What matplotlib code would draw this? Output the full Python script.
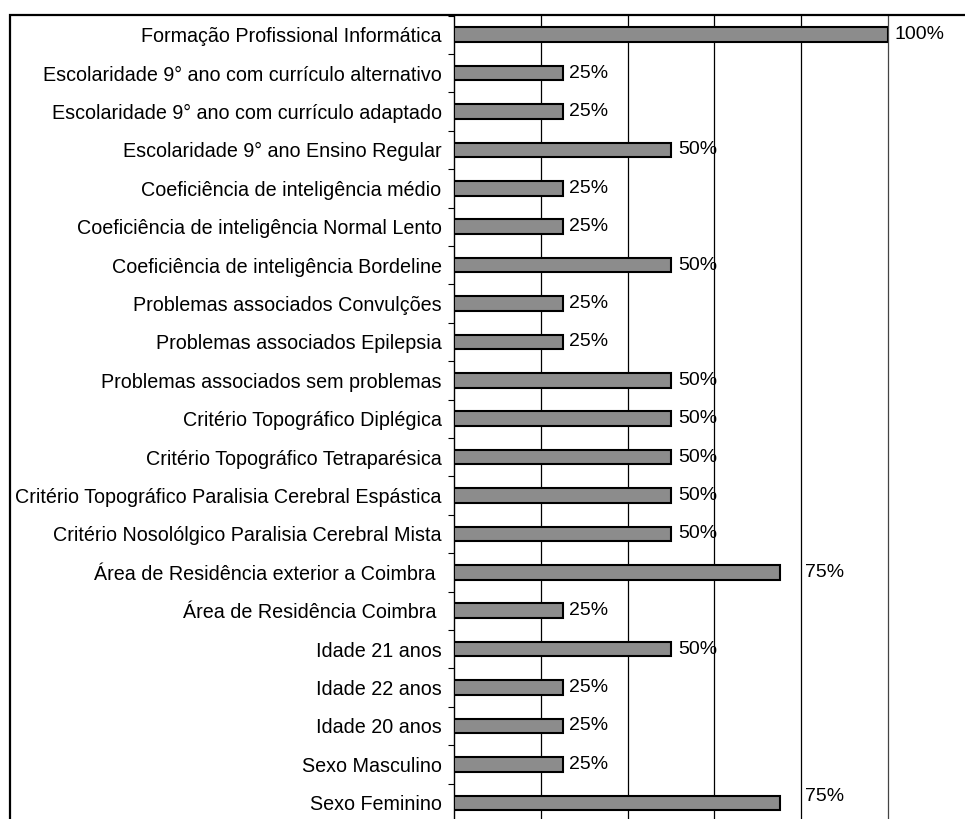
import matplotlib
matplotlib.use("Agg")
import matplotlib.pyplot as plt
from matplotlib.patches import Rectangle
from matplotlib.ticker import FixedLocator
import numpy as np

categories = [
    "Formação Profissional Informática",
    "Escolaridade 9° ano com currículo alternativo",
    "Escolaridade 9° ano com currículo adaptado",
    "Escolaridade 9° ano Ensino Regular",
    "Coeficiência de inteligência médio",
    "Coeficiência de inteligência Normal Lento",
    "Coeficiência de inteligência Bordeline",
    "Problemas associados Convulções",
    "Problemas associados Epilepsia",
    "Problemas associados sem problemas",
    "Critério Topográfico Diplégica",
    "Critério Topográfico Tetraparésica",
    "Critério Topográfico Paralisia Cerebral Espástica",
    "Critério Nosolólgico Paralisia Cerebral Mista",
    "Área de Residência exterior a Coimbra ",
    "Área de Residência Coimbra ",
    "Idade 21 anos",
    "Idade 22 anos",
    "Idade 20 anos",
    "Sexo Masculino",
    "Sexo Feminino",
]
values = [100, 25, 25, 50, 25, 25, 50, 25, 25, 50, 50, 50, 50, 50, 75, 25, 50, 25, 25, 25, 75]
x_ticks = [0, 20, 40, 60, 80, 100]

plt.rcParams['font.family'] = ['Liberation Sans', 'DejaVu Sans']
W, H = 965, 819
fig = plt.figure(figsize=(W / 100, H / 100), dpi=100)

# outer frame
fig.patches.append(Rectangle((10 / W, -0.05), 1.1, 1 - 15 / H + 0.05,
                             transform=fig.transFigure, fill=False,
                             edgecolor='black', linewidth=1.6, clip_on=False))

n = len(categories)
ax_left, ax_right = 454 / W, 888 / W
ax_top = 1 - 15.5 / H
ax_bottom = 1 - 822 / H
ax = fig.add_axes([ax_left, ax_bottom, ax_right - ax_left, ax_top - ax_bottom])
ax.set_facecolor('none')

y = np.arange(n)
ax.barh(y, values, height=0.38, color='#8c8c8c', edgecolor='black', linewidth=1.5, zorder=3)
ax.set_xlim(0, 100)
ax.set_ylim(n - 0.5, -0.5)

ax.set_xticks(x_ticks)
for xt in x_ticks[1:]:
    ax.axvline(xt, color='black' if xt < 100 else '#444444', linewidth=0.9, zorder=1, clip_on=False)
ax.tick_params(axis='x', bottom=False, labelbottom=False)

ax.set_yticks(y)
ax.set_yticklabels(categories, fontsize=14.2)
ax.tick_params(axis='y', which='major', length=0, pad=9)
ax.yaxis.set_minor_locator(FixedLocator(np.arange(n + 1) - 0.5))
ax.tick_params(axis='y', which='minor', length=4, width=0.8, color='black')

for s in ['top', 'right', 'bottom']:
    ax.spines[s].set_visible(False)
ax.spines['left'].set_linewidth(1.0)

for i, v in enumerate(values):
    dx = 26 if v == 75 else 7
    dy = -6 if (v == 75 and i == n - 1) else 0
    ax.annotate(f"{v}%", (v, i), xytext=(dx * 0.72, -dy * 0.72), textcoords='offset points',
                ha='left', va='center', fontsize=14, zorder=4)

fig.savefig("out.png", dpi=100)
